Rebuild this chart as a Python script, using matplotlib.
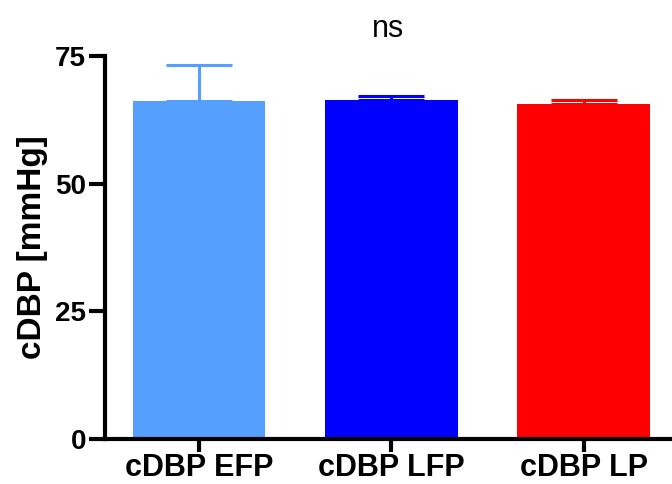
import matplotlib.pyplot as plt
import numpy as np

plt.rcParams['font.family'] = ['Liberation Sans', 'DejaVu Sans']

groups = ["cDBP EFP", "cDBP LFP", "cDBP LP"]
means = [66.2, 66.4, 65.6]
sem = [7.0, 0.8, 0.9]
colors = ["#55A0FF", "#0000FF", "#FF0000"]
yticks = [0, 25, 50, 75]

fig = plt.figure(figsize=(6.72, 4.84), dpi=100)
ax = fig.add_axes([0.156, 0.093, 0.844, 0.791])

x = np.arange(len(groups))
ax.bar(x, means, width=0.69, color=colors, zorder=2)
for xi, m, e, c in zip(x, means, sem, colors):
    ax.errorbar(xi, m, yerr=[[0], [e]], color=c, elinewidth=2.2,
                capsize=24, capthick=2.2, zorder=1)

ax.set_xlim(-0.49, 2.46)
ax.set_ylim(0, 75)
ax.set_yticks(yticks)
ax.set_xticks(x)
ax.set_xticklabels(groups, fontsize=22, fontweight='bold')
ax.tick_params(axis='y', labelsize=20, width=3, length=11.5, pad=2)
ax.tick_params(axis='x', width=3, length=9, pad=1)
for lab in ax.get_yticklabels():
    lab.set_fontweight('bold')

for s in ['top', 'right']:
    ax.spines[s].set_visible(False)
for s in ['left', 'bottom']:
    ax.spines[s].set_linewidth(3)
ax.spines['left'].set_capstyle('projecting')

ax.set_ylabel("cDBP [mmHg]", fontsize=24, fontweight='bold', labelpad=5)
ax.set_title("ns", fontsize=22, pad=14)

fig.savefig("out.png", dpi=100)
